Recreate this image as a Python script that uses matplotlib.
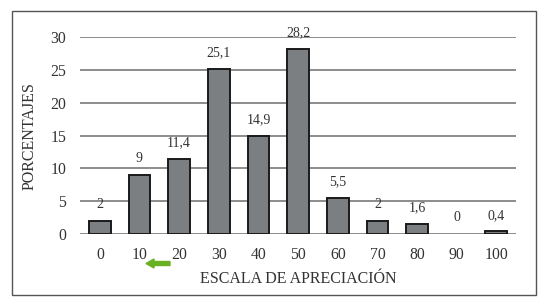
import matplotlib.pyplot as plt
from matplotlib.patches import Rectangle, FancyArrow

plt.rcParams['font.family'] = ['Liberation Serif', 'DejaVu Serif']

categories = ["0", "10", "20", "30", "40", "50", "60", "70", "80", "90", "100"]
porcentajes = [2, 9, 11.4, 25.1, 14.9, 28.2, 5.5, 2, 1.6, 0, 0.4]

fig = plt.figure(figsize=(5.48, 3.04), dpi=100)
ax = fig.add_axes([0.146, 0.230, 0.796, 0.648])

x = range(len(categories))
bars = ax.bar(x, porcentajes, width=0.55, color="#7b7f81",
              edgecolor="#1a1a1a", linewidth=1.4, zorder=3)
# no outline for empty categories
for b, v in zip(bars, porcentajes):
    if v == 0:
        b.set_linewidth(0)

labels = [f"{v:g}".replace(".", ",") for v in porcentajes]
ax.bar_label(bars, labels=labels, padding=7, fontsize=10, color="#333333")

ax.set_xlim(-0.5, len(categories) - 0.5)
ax.set_ylim(0, 30)
ax.set_yticks([0, 5, 10, 15, 20, 25, 30])
ax.set_xticks(list(x))
ax.set_xticklabels(categories)
ax.grid(axis="y", color="#6e6e6e", linewidth=1.1, zorder=0)
ax.tick_params(length=0, labelsize=11.3, colors="#333333", pad=9)
ax.tick_params(axis="y", pad=10)
for s in ax.spines.values():
    s.set_visible(False)

ax.set_xlabel("ESCALA DE APRECIACIÓN", fontsize=11.5, color="#333333", labelpad=6)
ax.set_ylabel("PORCENTAJES", fontsize=11.5, color="#333333", labelpad=9)

# green arrow under the 10-20 ticks
arrow = FancyArrow(170 / 548, 1 - 263.5 / 304, -24 / 548, 0,
                   width=4 / 304, head_width=9 / 304, head_length=8 / 548,
                   length_includes_head=True, color="#6ab023",
                   transform=fig.transFigure)
fig.add_artist(arrow)

# frame around the whole figure
frame = Rectangle((12 / 548, 1 - 295 / 304), 524 / 548, 284 / 304,
                  fill=False, edgecolor="#555555", linewidth=1.0,
                  transform=fig.transFigure)
fig.add_artist(frame)

fig.savefig("out.png", dpi=100, facecolor="white")
